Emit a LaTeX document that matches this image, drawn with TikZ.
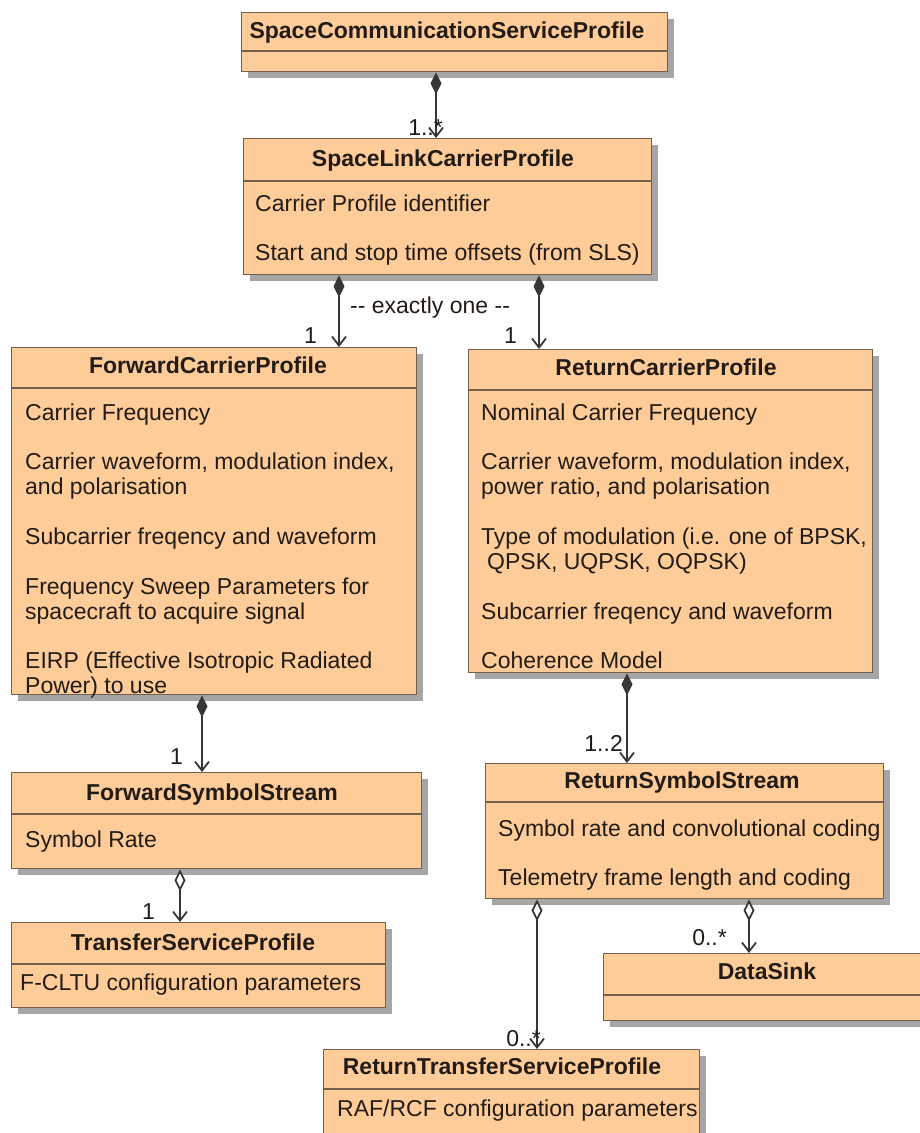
\documentclass[tikz,border=0pt]{standalone}
\usepackage{fontspec}
\setmainfont{Liberation Sans}
\usetikzlibrary{arrows.meta,shadows}

\definecolor{classfill}{RGB}{253,204,153}
\definecolor{classline}{RGB}{115,95,75}
\definecolor{shadowgray}{RGB}{165,165,165}
\definecolor{inkdark}{RGB}{35,28,22}
\definecolor{wire}{RGB}{55,55,55}

\tikzset{
  classbox/.style={draw=classline, line width=1.4pt, fill=classfill,
    anchor=north west, inner sep=0pt,
    drop shadow={shadow xshift=6pt, shadow yshift=-6pt, fill=shadowgray, opacity=1}},
  divider/.style={draw=classline, line width=1.2pt},
  txt/.style={text=inkdark, inner sep=0pt, yshift=-5pt},
  ctitle/.style={txt, font=\fontsize{23}{25}\selectfont\bfseries, anchor=mid},
  attr/.style={txt, font=\fontsize{23}{25}\selectfont, anchor=mid west},
  mult/.style={txt, font=\fontsize{23}{25}\selectfont, anchor=mid east},
  compose/.style={draw=wire, line width=1.8pt,
    {Diamond[length=22pt,width=11pt]}-{Straight Barb[length=9pt,width=14pt]}},
  aggregate/.style={draw=wire, line width=1.8pt,
    {Diamond[open,fill=white,length=22pt,width=11pt]}-{Straight Barb[length=9pt,width=14pt]}},
}

% class rectangle: name, left, top, width, height, y of the compartment line
\newcommand\umlclass[6]{%
  \node[classbox, minimum width=#4pt, minimum height=#5pt] (#1) at (#2,#3) {};
  \draw[divider] (#1.west |- 0,#6) -- (#1.east |- 0,#6);
}

\begin{document}
\begin{tikzpicture}[x=1pt,y=-1pt]
\useasboundingbox (0,0) rectangle (920,1133);
\fill[white] (0,0) rectangle (920,1133);
\clip (0,0) rectangle (920,1133);

% classes
\umlclass{scsp}{241}{12}{426}{59}{51}
\umlclass{slcp}{243}{138}{408}{136}{181}
\umlclass{fcp}{11}{347}{405}{347}{388}
\umlclass{rcp}{468}{349}{404}{323}{390}
\umlclass{fss}{11}{772}{410}{96}{814}
\umlclass{tsp}{11}{922}{374}{85}{964}
\umlclass{rss}{485}{763}{398}{135}{802}
\umlclass{ds}{603}{953}{328}{67}{995}
\umlclass{rtsp}{323}{1049}{376}{100}{1089}

% class names
\node[ctitle] (t-scsp) at (447,31) {SpaceCommunicationServiceProfile};
\node[ctitle] (t-slcp) at (443,159) {SpaceLinkCarrierProfile};
\node[ctitle] (t-fcp) at (208,366) {ForwardCarrierProfile};
\node[ctitle] (t-rcp) at (666,368) {ReturnCarrierProfile};
\node[ctitle] (t-fss) at (212,793) {ForwardSymbolStream};
\node[ctitle] (t-tsp) at (193,943) {TransferServiceProfile};
\node[ctitle] (t-rss) at (682,781) {ReturnSymbolStream};
\node[ctitle] (t-ds) at (767,972) {DataSink};
\node[ctitle] (t-rtsp) at (502,1067) {ReturnTransferServiceProfile};

% attributes
\node[attr] (a-slcp1) at (255,204) {Carrier Profile identifier};
\node[attr] (a-slcp2) at (255,253) {Start and stop time offsets (from SLS)};

\node[attr] (a-fcp1) at (25,413) {Carrier Frequency};
\node[attr] (a-fcp2) at (25,462) {Carrier waveform, modulation index,};
\node[attr] (a-fcp2b) at (25,487) {and polarisation};
\node[attr] (a-fcp3) at (25,537) {Subcarrier freqency and waveform};
\node[attr] (a-fcp4) at (25,587) {Frequency Sweep Parameters for};
\node[attr] (a-fcp4b) at (25,612) {spacecraft to acquire signal};
\node[attr] (a-fcp5) at (25,661) {EIRP (Effective Isotropic Radiated};
\node[attr] (a-fcp5b) at (25,686) {Power) to use};

\node[attr] (a-rcp1) at (481,413) {Nominal Carrier Frequency};
\node[attr] (a-rcp2) at (481,462) {Carrier waveform, modulation index,};
\node[attr] (a-rcp2b) at (481,487) {power ratio, and polarisation};
\node[attr] (a-rcp3) at (481,537) {Type of modulation (i.e. one of BPSK,};
\node[attr] (a-rcp3b) at (487,562) {QPSK, UQPSK, OQPSK)};
\node[attr] (a-rcp4) at (481,612) {Subcarrier freqency and waveform};
\node[attr] (a-rcp5) at (481,661) {Coherence Model};

\node[attr] (a-fss1) at (25,840) {Symbol Rate};
\node[attr] (a-tsp1) at (20,983) {F-CLTU configuration parameters};
\node[attr] (a-rss1) at (498,829) {Symbol rate and convolutional coding};
\node[attr] (a-rss2) at (498,878) {Telemetry frame length and coding};
\node[attr] (a-rtsp1) at (337,1109) {RAF/RCF configuration parameters};

% associations
\draw[compose] ([xshift=195pt]scsp.south west) -- ([xshift=193pt]slcp.north west);
\draw[compose] ([xshift=96pt]slcp.south west) -- ([xshift=328pt]fcp.north west);
\draw[compose] ([xshift=296pt]slcp.south west) -- ([xshift=71pt]rcp.north west);
\draw[compose] ([xshift=191pt]fcp.south west) -- ([xshift=191pt]fss.north west);
\draw[compose] ([xshift=159pt]rcp.south west) -- ([xshift=142pt]rss.north west);
\draw[aggregate] ([xshift=169pt]fss.south west) -- ([xshift=169pt]tsp.north west);
\draw[aggregate] ([xshift=52pt]rss.south west) -- ([xshift=214pt]rtsp.north west);
\draw[aggregate] ([xshift=264pt]rss.south west) -- ([xshift=146pt]ds.north west);

% multiplicities
\node[mult] (m-slcp) at (443,128) {1..*};
\node[mult] (m-fcp) at (317,336) {1};
\node[mult] (m-rcp) at (517,336) {1};
\node[mult, anchor=mid west] (m-one) at (350,306) {-{}- exactly one -{}-};
\node[mult] (m-fss) at (183,757) {1};
\node[mult] (m-rss) at (623,744) {1..2};
\node[mult] (m-tsp) at (155,912) {1};
\node[mult] (m-ds) at (727,938) {0..*};
\node[mult] (m-rtsp) at (541,1039) {0..*};
\end{tikzpicture}
\end{document}
